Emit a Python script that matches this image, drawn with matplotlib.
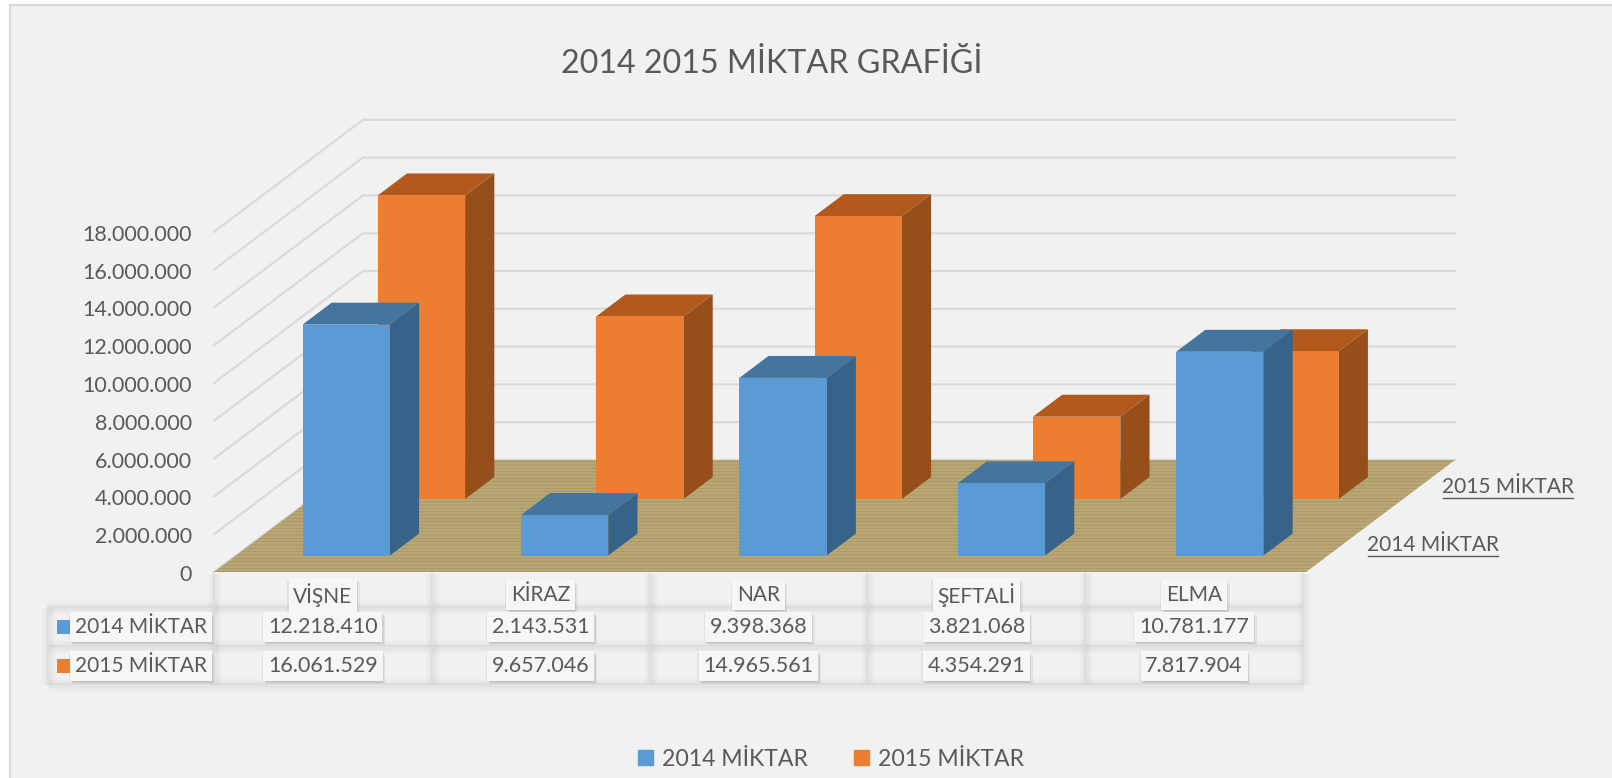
import matplotlib
matplotlib.use('Agg')
import matplotlib.pyplot as plt
import matplotlib.patheffects as pe
from matplotlib.patches import Polygon, Rectangle, Patch

plt.rcParams['font.family'] = ['Lato', 'DejaVu Sans']
plt.rcParams['hatch.linewidth'] = 0.35

categories = ['VİŞNE', 'KİRAZ', 'NAR', 'ŞEFTALİ', 'ELMA']
miktar_2014 = [12218410, 2143531, 9398368, 3821068, 10781177]
miktar_2015 = [16061529, 9657046, 14965561, 4354291, 7817904]
labels_2014 = ['12.218.410', '2.143.531', '9.398.368', '3.821.068', '10.781.177']
labels_2015 = ['16.061.529', '9.657.046', '14.965.561', '4.354.291', '7.817.904']
y_ticks = [0, 2000000, 4000000, 6000000, 8000000, 10000000, 12000000, 14000000, 16000000, 18000000]
y_tick_labels = ['0', '2.000.000', '4.000.000', '6.000.000', '8.000.000', '10.000.000',
                 '12.000.000', '14.000.000', '16.000.000', '18.000.000']
series_names = ['2014 MİKTAR', '2015 MİKTAR']

W, H = 1612, 778
x0, y0 = 214, 572          # front left corner of the floor, in pixels
cat_w = 218.4              # pixels per category on the floor
table_w = 217.8            # pixels per column in the data table
per_unit = 18.9 / 1e6      # pixels per unit of value
depth_cat = 149 / cat_w    # oblique offset of the back wall
depth_val = 112 / per_unit
bar_w = 0.4
bar_d = 0.196

blue = ('#5B9BD5', '#37638A', '#44759F')
orange = ('#ED7D31', '#964F1A', '#B25A1E')
grey = '#595959'
grid = '#DADADA'


def fx(x):
    return x / W


def fy(y):
    return 1 - y / H


def proj(x, v, d):
    return x + d * depth_cat, v + d * depth_val


def draw_bar(ax, i, val, d, colors, z):
    c = i + 0.505
    l, r = c - bar_w / 2, c + bar_w / 2
    d2 = d + bar_d
    front = [proj(l, 0, d), proj(r, 0, d), proj(r, val, d), proj(l, val, d)]
    side = [proj(r, 0, d), proj(r, 0, d2), proj(r, val, d2), proj(r, val, d)]
    top = [proj(l, val, d), proj(r, val, d), proj(r, val, d2), proj(l, val, d2)]
    ax.add_patch(Polygon(side, facecolor=colors[1], edgecolor='none', zorder=z))
    ax.add_patch(Polygon(top, facecolor=colors[2], edgecolor='none', zorder=z))
    ax.add_patch(Polygon(front, facecolor=colors[0], edgecolor='none', zorder=z + 0.1))


fig = plt.figure(figsize=(W / 100, H / 100), dpi=100, facecolor='white')
ax = fig.add_axes([0, 0, 1, 1])
ax.set_xlim(-x0 / cat_w, (W - x0) / cat_w)
ax.set_ylim((y0 - H) / per_unit, y0 / per_unit)
ax.axis('off')

# chart background and its thin border
fig.patches.append(Rectangle((fx(10), -0.01), 1.02 - fx(10), fy(5) + 0.01, transform=fig.transFigure,
                             facecolor='#F1F1F1', edgecolor='#D9D9D9', linewidth=1.5, zorder=-5))

# walls
for t in y_ticks:
    xa, va = proj(0, t, 0)
    xb, vb = proj(0, t, 1)
    xc, vc = proj(len(categories), t, 1)
    ax.plot([xa, xb, xc], [va, vb, vc], color=grid, lw=1.6, zorder=1, solid_joinstyle='miter')

# floor
n = len(categories)
floor = [proj(0, 0, 0), proj(n, 0, 0), proj(n, 0, 1), proj(0, 0, 1)]
ax.add_patch(Polygon(floor, facecolor='#B9A675', edgecolor='none', zorder=2))
ax.add_patch(Polygon(floor, facecolor='none', edgecolor='#A08C5C', hatch='-----', linewidth=0, zorder=2.1))

for i in range(n):
    draw_bar(ax, i, miktar_2015[i], 0.652, orange, 3)
for i in range(n):
    draw_bar(ax, i, miktar_2014[i], 0.147, blue, 4)

# value axis labels
for t, lab in zip(y_ticks, y_tick_labels):
    ax.text(-22 / cat_w, t - 3 / per_unit, lab, ha='right', va='center', fontsize=15.5, color=grey, zorder=6)

# depth axis labels
for name, px, py in [(series_names[0], 1433, 545), (series_names[1], 1508, 487)]:
    fig.text(fx(px), fy(py), name, ha='center', va='center', fontsize=15, color=grey)
    fig.add_artist(plt.Line2D([fx(px - 65), fx(px + 65)], [fy(py + 11), fy(py + 11)], color=grey, lw=1))

fig.text(fx(772), fy(64), '2014 2015 MİKTAR GRAFİĞİ', ha='center', va='center', fontsize=23.2, color=grey)

# data table lines, with a soft shadow
col_x = [x0 + table_w * i for i in range(n + 1)]
row_y = [607, 646, 684]


def table_line(xs, ys):
    for lw, a in [(10, 0.02), (7, 0.03), (4, 0.05)]:
        fig.add_artist(plt.Line2D([fx(x + 1) for x in xs], [fy(y + 1) for y in ys], color='#808080',
                                  lw=lw, alpha=a, solid_capstyle='butt'))
    fig.add_artist(plt.Line2D([fx(x) for x in xs], [fy(y) for y in ys], color='#DDDDDD', lw=1.2))


for y in row_y:
    table_line([48, col_x[-1]], [y, y])
table_line([48, 48], [607, 684])
for x in col_x:
    table_line([x, x], [573, 684])


def cell(px, py, s, size=15.5):
    t = fig.text(fx(px), fy(py), s, ha='center', va='center', fontsize=size, color=grey, zorder=8,
                 bbox=dict(boxstyle='square,pad=0.22', facecolor='#F6F6F6', edgecolor='none'))
    t.get_bbox_patch().set_path_effects([
        pe.SimplePatchShadow(offset=(2, -2.5), shadow_rgbFace='#707070', alpha=0.1),
        pe.SimplePatchShadow(offset=(1, -1.5), shadow_rgbFace='#707070', alpha=0.14),
        pe.SimplePatchShadow(offset=(-1, -1), shadow_rgbFace='#707070', alpha=0.1),
        pe.Normal()])


for i in range(n):
    cx = x0 + table_w * (i + 0.5)
    cell(cx, 595, categories[i], 15)
    cell(cx, 627, labels_2014[i])
    cell(cx, 666, labels_2015[i])

for name, color, y in [(series_names[0], blue[0], 627), (series_names[1], orange[0], 666)]:
    fig.patches.append(Rectangle((fx(57), fy(y + 7)), 14 / W, 14 / H, transform=fig.transFigure,
                                 facecolor=color, edgecolor='none', zorder=8))
    cell(141, y, name, 15)

leg = ax.legend(handles=[Patch(color=blue[0], label=series_names[0]), Patch(color=orange[0], label=series_names[1])],
                loc='center', bbox_to_anchor=(fx(831), fy(759)), bbox_transform=fig.transFigure, ncol=2,
                frameon=False, fontsize=16.6, labelcolor=grey, handlelength=0.66, handleheight=0.66,
                handletextpad=0.4, columnspacing=2.0, borderpad=0, borderaxespad=0)

fig.savefig('out.png', dpi=100, facecolor='white')
